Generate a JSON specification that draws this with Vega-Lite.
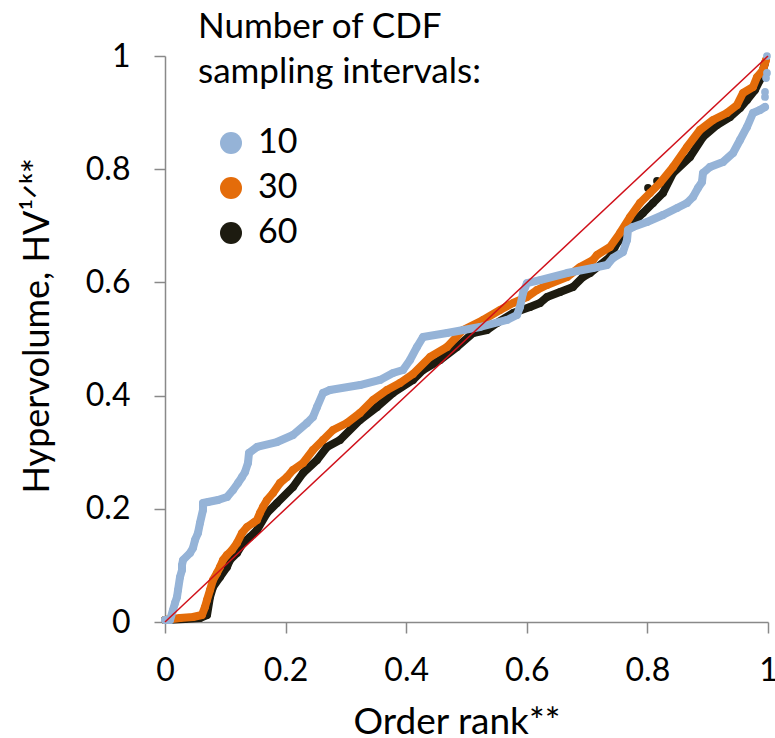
{
  "$schema": "https://vega.github.io/schema/vega-lite/v6.json",
  "width": 603,
  "height": 566,
  "autosize": {"type": "none"},
  "padding": {"left": 165, "top": 56, "right": 7, "bottom": 116},
  "background": "white",
  "config": {"view": {"stroke": null}, "font": "Lato"},
  "data": {"values": [
    {"s":"60","part":"main","x":0,"y":0.0035},
    {"s":"60","part":"main","x":0.0332,"y":0.0053},
    {"s":"60","part":"main","x":0.058,"y":0.0071},
    {"s":"60","part":"main","x":0.0697,"y":0.0124},
    {"s":"60","part":"main","x":0.0746,"y":0.0442},
    {"s":"60","part":"main","x":0.0796,"y":0.0618},
    {"s":"60","part":"main","x":0.0912,"y":0.0795},
    {"s":"60","part":"main","x":0.1028,"y":0.0972},
    {"s":"60","part":"main","x":0.1078,"y":0.1095},
    {"s":"60","part":"main","x":0.1194,"y":0.1219},
    {"s":"60","part":"main","x":0.1294,"y":0.1396},
    {"s":"60","part":"main","x":0.141,"y":0.1502},
    {"s":"60","part":"main","x":0.1526,"y":0.1625},
    {"s":"60","part":"main","x":0.1692,"y":0.1926},
    {"s":"60","part":"main","x":0.1857,"y":0.2102},
    {"s":"60","part":"main","x":0.2123,"y":0.2385},
    {"s":"60","part":"main","x":0.2289,"y":0.2633},
    {"s":"60","part":"main","x":0.2521,"y":0.2862},
    {"s":"60","part":"main","x":0.2687,"y":0.3092},
    {"s":"60","part":"main","x":0.2902,"y":0.3216},
    {"s":"60","part":"main","x":0.3234,"y":0.3569},
    {"s":"60","part":"main","x":0.3516,"y":0.3799},
    {"s":"60","part":"main","x":0.3781,"y":0.4046},
    {"s":"60","part":"main","x":0.4113,"y":0.4276},
    {"s":"60","part":"main","x":0.4279,"y":0.4452},
    {"s":"60","part":"main","x":0.4561,"y":0.4629},
    {"s":"60","part":"main","x":0.4842,"y":0.4859},
    {"s":"60","part":"main","x":0.5108,"y":0.5106},
    {"s":"60","part":"main","x":0.534,"y":0.5159},
    {"s":"60","part":"main","x":0.5506,"y":0.5283},
    {"s":"60","part":"main","x":0.5771,"y":0.5459},
    {"s":"60","part":"main","x":0.6053,"y":0.5565},
    {"s":"60","part":"main","x":0.6219,"y":0.5636},
    {"s":"60","part":"main","x":0.6335,"y":0.5742},
    {"s":"60","part":"main","x":0.6551,"y":0.583},
    {"s":"60","part":"main","x":0.6766,"y":0.5919},
    {"s":"60","part":"main","x":0.6932,"y":0.6095},
    {"s":"60","part":"main","x":0.7048,"y":0.6166},
    {"s":"60","part":"main","x":0.738,"y":0.6449},
    {"s":"60","part":"main","x":0.7496,"y":0.6696},
    {"s":"60","part":"main","x":0.7595,"y":0.6802},
    {"s":"60","part":"main","x":0.7761,"y":0.7049},
    {"s":"60","part":"main","x":0.7927,"y":0.7226},
    {"s":"60","part":"main","x":0.8093,"y":0.7403},
    {"s":"60","part":"main","x":0.8259,"y":0.758},
    {"s":"60","part":"main","x":0.8425,"y":0.7933},
    {"s":"60","part":"main","x":0.8706,"y":0.8216},
    {"s":"60","part":"main","x":0.8922,"y":0.8569},
    {"s":"60","part":"main","x":0.9154,"y":0.8781},
    {"s":"60","part":"main","x":0.937,"y":0.8922},
    {"s":"60","part":"main","x":0.9536,"y":0.9081},
    {"s":"60","part":"main","x":0.9652,"y":0.9223},
    {"s":"60","part":"main","x":0.9784,"y":0.9399},
    {"s":"60","part":"main","x":0.9867,"y":0.9576},
    {"s":"60","part":"main","x":0.995,"y":0.9876},
    {"s":"60","part":"out","x":0.801,"y":0.7668},
    {"s":"60","part":"out","x":0.8159,"y":0.7792},
    {"s":"30","part":"main","x":0,"y":0.0035},
    {"s":"30","part":"main","x":0.0249,"y":0.0071},
    {"s":"30","part":"main","x":0.0464,"y":0.0088},
    {"s":"30","part":"main","x":0.0614,"y":0.0124},
    {"s":"30","part":"main","x":0.0663,"y":0.0265},
    {"s":"30","part":"main","x":0.0697,"y":0.0389},
    {"s":"30","part":"main","x":0.0746,"y":0.0565},
    {"s":"30","part":"main","x":0.0796,"y":0.0742},
    {"s":"30","part":"main","x":0.0862,"y":0.0866},
    {"s":"30","part":"main","x":0.0912,"y":0.0972},
    {"s":"30","part":"main","x":0.0962,"y":0.1095},
    {"s":"30","part":"main","x":0.1028,"y":0.1184},
    {"s":"30","part":"main","x":0.1111,"y":0.1272},
    {"s":"30","part":"main","x":0.1194,"y":0.1396},
    {"s":"30","part":"main","x":0.1277,"y":0.1572},
    {"s":"30","part":"main","x":0.136,"y":0.1678},
    {"s":"30","part":"main","x":0.1459,"y":0.1749},
    {"s":"30","part":"main","x":0.1526,"y":0.1802},
    {"s":"30","part":"main","x":0.1575,"y":0.1926},
    {"s":"30","part":"main","x":0.1625,"y":0.2032},
    {"s":"30","part":"main","x":0.1692,"y":0.2155},
    {"s":"30","part":"main","x":0.1791,"y":0.2279},
    {"s":"30","part":"main","x":0.1907,"y":0.2456},
    {"s":"30","part":"main","x":0.2023,"y":0.2562},
    {"s":"30","part":"main","x":0.2123,"y":0.2686},
    {"s":"30","part":"main","x":0.2289,"y":0.2809},
    {"s":"30","part":"main","x":0.2454,"y":0.3039},
    {"s":"30","part":"main","x":0.262,"y":0.3216},
    {"s":"30","part":"main","x":0.2786,"y":0.3392},
    {"s":"30","part":"main","x":0.3018,"y":0.3516},
    {"s":"30","part":"main","x":0.3234,"y":0.3693},
    {"s":"30","part":"main","x":0.3449,"y":0.3922},
    {"s":"30","part":"main","x":0.3682,"y":0.4099},
    {"s":"30","part":"main","x":0.3897,"y":0.4223},
    {"s":"30","part":"main","x":0.4113,"y":0.4382},
    {"s":"30","part":"main","x":0.4395,"y":0.4682},
    {"s":"30","part":"main","x":0.4677,"y":0.4859},
    {"s":"30","part":"main","x":0.4942,"y":0.5159},
    {"s":"30","part":"main","x":0.5274,"y":0.5336},
    {"s":"30","part":"main","x":0.5556,"y":0.5512},
    {"s":"30","part":"main","x":0.5771,"y":0.5636},
    {"s":"30","part":"main","x":0.6003,"y":0.5742},
    {"s":"30","part":"main","x":0.6169,"y":0.5866},
    {"s":"30","part":"main","x":0.6335,"y":0.5954},
    {"s":"30","part":"main","x":0.6667,"y":0.6095},
    {"s":"30","part":"main","x":0.6882,"y":0.6272},
    {"s":"30","part":"main","x":0.7098,"y":0.6396},
    {"s":"30","part":"main","x":0.7164,"y":0.6484},
    {"s":"30","part":"main","x":0.738,"y":0.6625},
    {"s":"30","part":"main","x":0.7546,"y":0.6873},
    {"s":"30","part":"main","x":0.7711,"y":0.7155},
    {"s":"30","part":"main","x":0.7877,"y":0.7403},
    {"s":"30","part":"main","x":0.8043,"y":0.758},
    {"s":"30","part":"main","x":0.8209,"y":0.7756},
    {"s":"30","part":"main","x":0.8425,"y":0.8039},
    {"s":"30","part":"main","x":0.8657,"y":0.8392},
    {"s":"30","part":"main","x":0.8872,"y":0.8693},
    {"s":"30","part":"main","x":0.9088,"y":0.8869},
    {"s":"30","part":"main","x":0.932,"y":0.8993},
    {"s":"30","part":"main","x":0.9486,"y":0.9134},
    {"s":"30","part":"main","x":0.9585,"y":0.9346},
    {"s":"30","part":"main","x":0.9751,"y":0.9452},
    {"s":"30","part":"main","x":0.9818,"y":0.9629},
    {"s":"30","part":"main","x":0.9917,"y":0.9753},
    {"s":"30","part":"main","x":0.9967,"y":0.9929},
    {"s":"10","part":"main","x":0,"y":0.0035},
    {"s":"10","part":"main","x":0.0083,"y":0.0035},
    {"s":"10","part":"main","x":0.0133,"y":0.0212},
    {"s":"10","part":"main","x":0.0166,"y":0.0336},
    {"s":"10","part":"main","x":0.0199,"y":0.0442},
    {"s":"10","part":"main","x":0.0216,"y":0.0565},
    {"s":"10","part":"main","x":0.0249,"y":0.0795},
    {"s":"10","part":"main","x":0.0282,"y":0.0919},
    {"s":"10","part":"main","x":0.0282,"y":0.1007},
    {"s":"10","part":"main","x":0.0299,"y":0.1095},
    {"s":"10","part":"main","x":0.0415,"y":0.1219},
    {"s":"10","part":"main","x":0.0464,"y":0.1307},
    {"s":"10","part":"main","x":0.0498,"y":0.1449},
    {"s":"10","part":"main","x":0.0547,"y":0.1572},
    {"s":"10","part":"main","x":0.058,"y":0.1749},
    {"s":"10","part":"main","x":0.063,"y":0.1979},
    {"s":"10","part":"main","x":0.063,"y":0.2102},
    {"s":"10","part":"main","x":0.0713,"y":0.212},
    {"s":"10","part":"main","x":0.0879,"y":0.2155},
    {"s":"10","part":"main","x":0.1028,"y":0.2208},
    {"s":"10","part":"main","x":0.1128,"y":0.2332},
    {"s":"10","part":"main","x":0.1211,"y":0.2456},
    {"s":"10","part":"main","x":0.1277,"y":0.2562},
    {"s":"10","part":"main","x":0.1327,"y":0.265},
    {"s":"10","part":"main","x":0.1376,"y":0.2809},
    {"s":"10","part":"main","x":0.1393,"y":0.2986},
    {"s":"10","part":"main","x":0.1526,"y":0.3092},
    {"s":"10","part":"main","x":0.1857,"y":0.318},
    {"s":"10","part":"main","x":0.2123,"y":0.3304},
    {"s":"10","part":"main","x":0.2355,"y":0.3516},
    {"s":"10","part":"main","x":0.2454,"y":0.3622},
    {"s":"10","part":"main","x":0.2521,"y":0.3799},
    {"s":"10","part":"main","x":0.262,"y":0.4046},
    {"s":"10","part":"main","x":0.2736,"y":0.4099},
    {"s":"10","part":"main","x":0.3234,"y":0.4187},
    {"s":"10","part":"main","x":0.3566,"y":0.4276},
    {"s":"10","part":"main","x":0.3781,"y":0.4399},
    {"s":"10","part":"main","x":0.3947,"y":0.4452},
    {"s":"10","part":"main","x":0.4063,"y":0.4629},
    {"s":"10","part":"main","x":0.4179,"y":0.4859},
    {"s":"10","part":"main","x":0.4279,"y":0.5035},
    {"s":"10","part":"main","x":0.4677,"y":0.5106},
    {"s":"10","part":"main","x":0.5224,"y":0.5212},
    {"s":"10","part":"main","x":0.5672,"y":0.5336},
    {"s":"10","part":"main","x":0.5837,"y":0.5424},
    {"s":"10","part":"main","x":0.5887,"y":0.5565},
    {"s":"10","part":"main","x":0.5937,"y":0.5813},
    {"s":"10","part":"main","x":0.6003,"y":0.5989},
    {"s":"10","part":"main","x":0.6219,"y":0.6042},
    {"s":"10","part":"main","x":0.6667,"y":0.6166},
    {"s":"10","part":"main","x":0.7098,"y":0.6254},
    {"s":"10","part":"main","x":0.733,"y":0.6307},
    {"s":"10","part":"main","x":0.743,"y":0.6431},
    {"s":"10","part":"main","x":0.7595,"y":0.6537},
    {"s":"10","part":"main","x":0.7662,"y":0.6749},
    {"s":"10","part":"main","x":0.7678,"y":0.6926},
    {"s":"10","part":"main","x":0.7761,"y":0.6979},
    {"s":"10","part":"main","x":0.7993,"y":0.7067},
    {"s":"10","part":"main","x":0.8259,"y":0.7191},
    {"s":"10","part":"main","x":0.8491,"y":0.7314},
    {"s":"10","part":"main","x":0.8657,"y":0.7403},
    {"s":"10","part":"main","x":0.8756,"y":0.7509},
    {"s":"10","part":"main","x":0.8839,"y":0.7668},
    {"s":"10","part":"main","x":0.8905,"y":0.7774},
    {"s":"10","part":"main","x":0.8922,"y":0.7933},
    {"s":"10","part":"main","x":0.9038,"y":0.8039},
    {"s":"10","part":"main","x":0.9254,"y":0.8127},
    {"s":"10","part":"main","x":0.942,"y":0.8286},
    {"s":"10","part":"main","x":0.9536,"y":0.8516},
    {"s":"10","part":"main","x":0.9652,"y":0.8746},
    {"s":"10","part":"main","x":0.9751,"y":0.8993},
    {"s":"10","part":"main","x":0.9867,"y":0.9046},
    {"s":"10","part":"main","x":0.995,"y":0.9099},
    {"s":"10","part":"out","x":0.995,"y":0.9276},
    {"s":"10","part":"out","x":0.995,"y":0.9364},
    {"s":"10","part":"out","x":0.9967,"y":0.9611},
    {"s":"10","part":"out","x":0.9983,"y":0.97},
    {"s":"10","part":"out","x":0.9983,"y":1.0}
  ]},
  "encoding": {
    "x": {
      "field": "x", "type": "quantitative",
      "scale": {"domain": [0, 1], "nice": false, "zero": false},
      "axis": {
        "values": [0, 0.2, 0.4, 0.6, 0.8, 1],
        "format": ".1~f",
        "grid": false,
        "domainColor": "#898989", "domainWidth": 1.5,
        "tickColor": "#898989", "tickWidth": 1.5, "tickSize": 11,
        "labelFont": "Lato", "labelFontSize": 32, "labelColor": "black", "labelPadding": 22,
        "labelFlush": false, "labelOverlap": false,
        "title": "Order rank**",
        "titleFont": "Lato", "titleFontSize": 37, "titleFontWeight": "normal", "titleColor": "black",
        "titleAlign": "left", "titleBaseline": "alphabetic", "titleX": 188, "titleY": 111
      }
    },
    "y": {
      "field": "y", "type": "quantitative",
      "scale": {"domain": [0, 1], "nice": false, "zero": false},
      "axis": {
        "values": [0, 0.2, 0.4, 0.6, 0.8, 1],
        "format": ".1~f",
        "grid": false,
        "domainColor": "#898989", "domainWidth": 1.5,
        "tickColor": "#898989", "tickWidth": 1.5, "tickSize": 11,
        "labelFont": "Lato", "labelFontSize": 32, "labelColor": "black", "labelPadding": 24,
        "labelFlush": false, "labelOverlap": false,
        "title": "Hypervolume, HV¹ᐟᵏ*",
        "titleFont": "Lato", "titleFontSize": 36, "titleFontWeight": "normal", "titleColor": "black",
        "titleAngle": 270, "titleAlign": "left", "titleBaseline": "alphabetic", "titleX": -117, "titleY": 437
      }
    }
  },
  "layer": [
    {
      "transform": [{"filter": "datum.s == '60' && datum.part == 'main'"}],
      "mark": {"type": "line", "color": "#1d1b10", "strokeWidth": 8, "strokeCap": "round", "strokeJoin": "round"}
    },
    {
      "transform": [{"filter": "datum.s == '60'"}],
      "mark": {"type": "point", "filled": true, "opacity": 1, "size": 60, "shape": "circle"},
      "encoding": {
        "color": {
          "field": "s", "type": "nominal",
          "scale": {"domain": ["10", "30", "60"], "range": ["#95b3d7", "#e46c0a", "#1d1b10"]},
          "legend": {
            "orient": "none", "legendX": 33, "legendY": -46,
            "title": ["Number of CDF", "sampling intervals:"],
            "titleFont": "Lato", "titleFontSize": 35, "titleFontWeight": "normal", "titleColor": "black",
            "titleLineHeight": 45, "titlePadding": 36, "titleLimit": 500,
            "labelFont": "Lato", "labelFontSize": 34, "labelColor": "black", "labelOffset": 10, "labelLimit": 200,
            "symbolType": "circle", "symbolSize": 484, "symbolOffset": 16,
            "rowPadding": 11, "padding": 0,
            "encode": {"symbols": {"update": {"stroke": {"value": "#4a7ebb"}, "strokeWidth": {"value": 1.5}, "opacity": {"value": 1}}}}
          }
        }
      }
    },
    {
      "transform": [{"filter": "datum.s == '30' && datum.part == 'main'"}],
      "mark": {"type": "line", "color": "#e46c0a", "strokeWidth": 8, "strokeCap": "round", "strokeJoin": "round"}
    },
    {
      "transform": [{"filter": "datum.s == '30'"}],
      "mark": {"type": "point", "filled": true, "opacity": 1, "size": 60, "shape": "circle"},
      "encoding": {"color": {"field": "s", "type": "nominal"}}
    },
    {
      "transform": [{"filter": "datum.s == '10' && datum.part == 'main'"}],
      "mark": {"type": "line", "color": "#95b3d7", "strokeWidth": 8, "strokeCap": "round", "strokeJoin": "round"}
    },
    {
      "transform": [{"filter": "datum.s == '10'"}],
      "mark": {"type": "point", "filled": true, "opacity": 1, "size": 60, "shape": "circle"},
      "encoding": {"color": {"field": "s", "type": "nominal"}}
    },
    {
      "data": {"values": [{"x0": 0, "y0": 0, "x1": 1, "y1": 1}]},
      "mark": {"type": "rule", "color": "#d0101a", "strokeWidth": 1.5},
      "encoding": {
        "x": {"field": "x0", "type": "quantitative"},
        "y": {"field": "y0", "type": "quantitative"},
        "x2": {"field": "x1"},
        "y2": {"field": "y1"}
      }
    }
  ]
}
